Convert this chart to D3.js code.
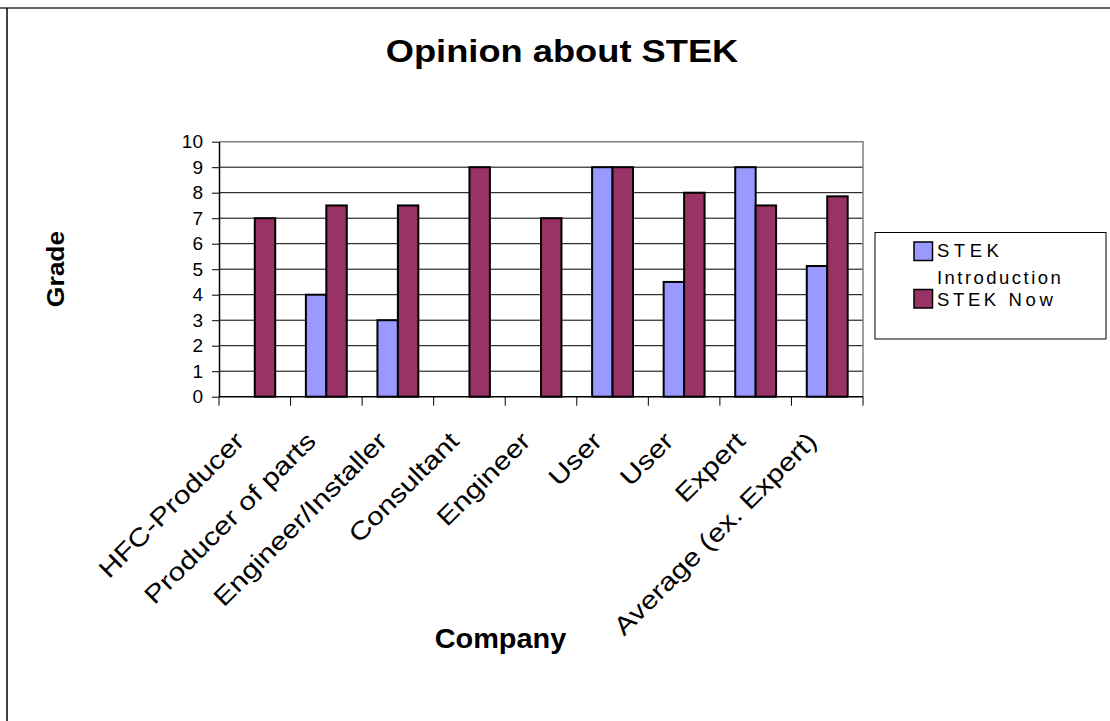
<!DOCTYPE html>
<html>
<head>
<meta charset="utf-8">
<script src="https://cdn.jsdelivr.net/npm/d3@7"></script>
<style>
  body { margin: 0; background: #fff; }
  svg { display: block; font-family: "Liberation Sans", Arial, Helvetica, sans-serif; }
</style>
</head>
<body>
<svg id="chart" width="1110" height="721"></svg>
<script>
// Survey grades per company type, at STEK's introduction and now
const categories = ["HFC-Producer", "Producer of parts", "Engineer/Installer", "Consultant",
                    "Engineer", "User", "User", "Expert", "Average (ex. Expert)"];
const seriesNames = ["STEK Introduction", "STEK Now"];
const introValues = [null, 4, 3, null, null, 9, 4.5, 9, 5.125];
const nowValues   = [7, 7.5, 7.5, 9, 7, 9, 8, 7.5, 7.857];
const yTicks = [0, 1, 2, 3, 4, 5, 6, 7, 8, 9, 10];
const seriesColors = ["#9999FF", "#993366"];

const svg = d3.select("#chart");
const W = 1110, H = 721;
const plot = { left: 219, right: 863, top: 141.7, bottom: 396.7 };

// stretch a text run along its baseline by factor k
function widen(sel, k, mode) {
  sel.each(function () {
    const n = this.getComputedTextLength();
    d3.select(this).attr("textLength", n * k).attr("lengthAdjust", mode || "spacingAndGlyphs");
  });
}

// chart frame
svg.append("line").attr("x1", 0).attr("x2", W).attr("y1", 8).attr("y2", 8)
  .attr("stroke", "#666").attr("stroke-width", 2);
svg.append("line").attr("x1", 7).attr("x2", 7).attr("y1", 8).attr("y2", H)
  .attr("stroke", "#000").attr("stroke-width", 1.5);

// scales
const x = d3.scaleBand().domain(d3.range(categories.length)).range([plot.left, plot.right]);
const xs = d3.scaleBand().domain(seriesNames).range([0, x.bandwidth()]).paddingOuter(0.75);
const y = d3.scaleLinear().domain([0, 10]).range([plot.bottom, plot.top]);

// gridlines
svg.append("g").selectAll("line").data(yTicks.filter(t => t > 0 && t < 10)).join("line")
  .attr("x1", plot.left).attr("x2", plot.right)
  .attr("y1", d => y(d)).attr("y2", d => y(d))
  .attr("stroke", "#000").attr("stroke-width", 1);

// plot area border (top and right)
svg.append("path")
  .attr("d", `M${plot.left},${y(10)}H${plot.right}V${plot.bottom}`)
  .attr("fill", "none").attr("stroke", "#808080").attr("stroke-width", 1.5);

// bars
const barData = [];
categories.forEach((c, i) => {
  [introValues[i], nowValues[i]].forEach((v, s) => {
    if (v != null) barData.push({ i, s, v });
  });
});
svg.append("g").selectAll("rect").data(barData).join("rect")
  .attr("x", d => x(d.i) + xs(seriesNames[d.s]))
  .attr("width", xs.bandwidth())
  .attr("y", d => y(d.v))
  .attr("height", d => y(0) - y(d.v))
  .attr("fill", d => seriesColors[d.s])
  .attr("stroke", "#000").attr("stroke-width", 2);

// y axis
const yAxis = svg.append("g").attr("transform", `translate(${plot.left},0)`)
  .call(d3.axisLeft(y).tickValues(yTicks).tickFormat(d3.format("d")).tickSize(7).tickPadding(9).tickSizeOuter(0));
yAxis.select(".domain").attr("stroke", "#000").attr("stroke-width", 1.5);
yAxis.selectAll(".tick line").attr("stroke", "#000").attr("stroke-width", 1);
yAxis.selectAll(".tick text").attr("font-size", 19).attr("fill", "#000")
  .attr("font-family", "Liberation Sans, Arial, sans-serif");

// x axis: ticks at category boundaries
const xAxisG = svg.append("g");
xAxisG.append("line").attr("x1", plot.left).attr("x2", plot.right)
  .attr("y1", plot.bottom).attr("y2", plot.bottom)
  .attr("stroke", "#000").attr("stroke-width", 1.5);
const bounds = d3.range(categories.length + 1).map(i => i < categories.length ? x(i) : plot.right);
xAxisG.selectAll("line.tk").data(bounds).join("line").attr("class", "tk")
  .attr("x1", d => d).attr("x2", d => d)
  .attr("y1", plot.bottom).attr("y2", plot.bottom + 9)
  .attr("stroke", "#000").attr("stroke-width", 1);

// rotated category labels
const catLabels = xAxisG.selectAll("text.cat").data(categories).join("text").attr("class", "cat")
  .attr("transform", (d, i) => `translate(${x(i) + x.bandwidth() / 2 - 9},${plot.bottom + 46}) rotate(-45)`)
  .attr("text-anchor", "end")
  .attr("font-size", 25)
  .attr("fill", "#000")
  .text(d => d);
widen(catLabels, 1.2);

// titles
const title = svg.append("text").attr("x", 562).attr("y", 62).attr("text-anchor", "middle")
  .attr("font-size", 31).attr("font-weight", "bold").text("Opinion about STEK");
widen(title, 1.17);

const xTitle = svg.append("text").attr("x", 500.5).attr("y", 648).attr("text-anchor", "middle")
  .attr("font-size", 27).attr("font-weight", "bold").text("Company");
widen(xTitle, 1.07);

const yTitle = svg.append("text").attr("transform", "translate(64,269) rotate(-90)")
  .attr("text-anchor", "middle").attr("font-size", 24).attr("font-weight", "bold").text("Grade");
widen(yTitle, 1.1);

// legend
const legend = svg.append("g");
legend.append("rect").attr("x", 875).attr("y", 232.5).attr("width", 231).attr("height", 106.5)
  .attr("fill", "#fff").attr("stroke", "#000").attr("stroke-width", 1);
const legendRows = [
  { name: seriesNames[0], lines: ["STEK", "Introduction"], swatchY: 242, textY: [256.7, 284] },
  { name: seriesNames[1], lines: ["STEK Now"], swatchY: 289.5, textY: [306] }
];
legendRows.forEach((r, s) => {
  legend.append("rect").attr("x", 914).attr("y", r.swatchY).attr("width", 18.5).attr("height", 18.5)
    .attr("fill", seriesColors[s]).attr("stroke", "#000").attr("stroke-width", 1.5);
  r.lines.forEach((ln, j) => {
    const t = legend.append("text").attr("x", 937).attr("y", r.textY[j])
      .attr("font-size", 18.5).attr("fill", "#000").text(ln);
    widen(t, 1.28, "spacing");
  });
});
</script>
</body>
</html>
